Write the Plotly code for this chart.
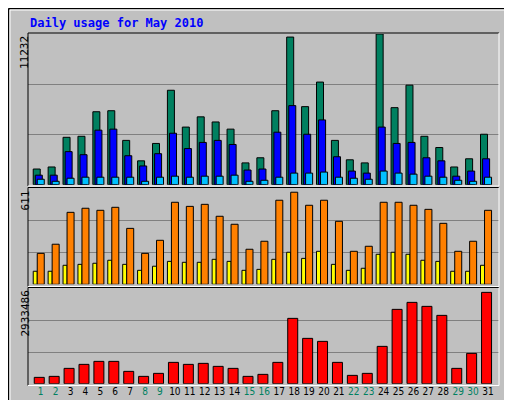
import plotly.graph_objects as go

days = list(range(1, 32))
hits = [1169,1321,3532,3608,5438,5514,3303,1779,3075,7039,4294,5057,4676,4142,1626,2007,5514,11003,5819,7649,3303,1855,1626,11232,5743,7420,3608,2770,1321,1931,3761]
files = [711,711,2465,2236,4066,4142,2160,1398,2312,3837,2693,3151,3303,2998,1093,1169,3913,5895,3761,4828,2084,1016,864,4294,3075,3151,2007,1779,635,1016,1931]
pages = [407,254,483,559,559,559,559,254,559,635,559,635,635,711,254,330,559,864,864,940,559,483,407,1016,864,788,635,559,330,254,559]
visits = [197,255,458,484,471,490,356,197,280,522,496,509,433,382,223,274,535,586,503,535,401,210,242,522,522,503,477,388,210,274,471]
sites = [83,83,121,127,134,153,127,89,115,146,140,140,159,146,89,95,159,204,165,210,127,89,102,191,204,191,153,146,83,83,121]
kbytes = [195567,226446,473478,597000,689631,689631,380841,226446,319083,658752,597000,627873,535236,473478,226446,288204,658752,2017428,1399848,1307211,658752,257325,319083,1152816,2295339,2511492,2387976,2110065,473478,936663,2820282]
weekend = {1,2,8,9,15,16,22,23,29,30}
max_top, max_mid, max_bot = 11232, 611, 2933486

W, H = 512, 400
L, R, T, B = 20, 491, 25, 378
def px(x): return (x - L) / (R - L)
def py(y): return (B - y) / (B - T)

fig = go.Figure()
def bar(vals, color, yaxis, off, w):
    fig.add_trace(go.Bar(x=days, y=vals, yaxis=yaxis, offset=off, width=w,
                         marker=dict(color=color, line=dict(color="black", width=1)),
                         showlegend=False, hoverinfo="skip"))
bar(hits, "#008060", "y", -0.50, 0.47)
bar(files, "#0000FF", "y", -0.36, 0.47)
bar(pages, "#00C0FF", "y", -0.23, 0.47)
bar(sites, "#FFFF00", "y2", -0.50, 0.27)
bar(visits, "#FF8000", "y2", -0.23, 0.47)
bar(kbytes, "#FF0000", "y3", -0.43, 0.67)

ticktext = [f"<span style='color:{'#008060' if d in weekend else 'black'}'>{d}</span>" for d in days]
ycommon = dict(showticklabels=False, showgrid=True, gridcolor="#808080", gridwidth=1,
               zeroline=False, showline=False, fixedrange=True)
fig.update_layout(
    width=W, height=H, margin=dict(l=L, r=W - R, t=T, b=H - B),
    paper_bgcolor="#C0C0C0", plot_bgcolor="#C0C0C0", barmode="overlay",
    font=dict(family="DejaVu Sans Mono", size=11, color="black"),
    xaxis=dict(range=[0.15, 31.74], tickvals=days, ticktext=ticktext, anchor="y3",
               showgrid=False, zeroline=False, ticks="", tickangle=0,
               tickfont=dict(size=10, family="DejaVu Sans Condensed")),
    yaxis=dict(domain=[py(176.7), py(26)], range=[0, max_top], dtick=max_top / 3, **ycommon),
    yaxis2=dict(domain=[py(276.3), py(180.3)], range=[0, max_mid], dtick=max_mid / 3, **ycommon),
    yaxis3=dict(domain=[py(375.7), py(280.7)], range=[0, max_bot], dtick=max_bot / 3, **ycommon),
)

shapes = []
def line(x0, y0, x1, y1, c, w=1):
    shapes.append(dict(type="line", xref="paper", yref="paper", x0=px(x0), y0=py(y0),
                       x1=px(x1), y1=py(y1), line=dict(color=c, width=w)))
line(0.5, 0.5, 511.5, 0.5, "black", 1.5); line(0.5, 0.5, 0.5, 399.5, "black", 1.5)
line(511, 0, 511, 400, "black", 2); line(0, 399, 512, 399, "black", 2)
line(2, 2, 509, 2, "white"); line(2, 2, 2, 397, "white")
line(509, 2, 509, 397, "#808080", 2); line(2, 397, 509, 397, "#808080", 2)
for (t, b) in [(25, 178), (179.5, 278.5), (279.5, 377.5)]:
    line(L, t, R, t, "black"); line(L, t, L, b, "black")
    line(R, t, R, b, "white"); line(L, b, R, b, "white")
fig.update_layout(shapes=shapes)

rf = dict(size=10, family="DejaVu Sans Mono")
ann = [
    dict(x=px(20), y=py(15), text="<b>Daily usage for May 2010</b>", showarrow=False,
         xanchor="left", yanchor="middle", font=dict(color="#0000FF", size=12)),
    dict(x=px(8), y=py(26), text="11232", textangle=-90, showarrow=False, xanchor="left", yanchor="top"),
    dict(x=px(8), y=py(181), text="611", textangle=-90, showarrow=False, xanchor="left", yanchor="top"),
    dict(x=px(8), y=py(281), text="2933486", textangle=-90, showarrow=False, xanchor="left", yanchor="top"),
    dict(x=px(493), y=py(178), textangle=-90, showarrow=False, xanchor="left", yanchor="bottom", font=rf,
         text="<span style='color:#00C0FF'>Pages</span>/<span style='color:#0000FF'>Files</span>/<span style='color:#008060'>Hits</span>"),
    dict(x=px(493), y=py(277), textangle=-90, showarrow=False, xanchor="left", yanchor="bottom", font=rf,
         text="<span style='color:#FF8000'>Sites</span>/<span style='color:#FFFF00'>Visits</span>"),
    dict(x=px(493), y=py(376), textangle=-90, showarrow=False, xanchor="left", yanchor="bottom", font=rf,
         text="<span style='color:#FF0000'>KBytes</span>"),
]
for a in ann:
    a["xref"] = "paper"; a["yref"] = "paper"
fig.update_layout(annotations=ann)
fig.write_html("out.html")
